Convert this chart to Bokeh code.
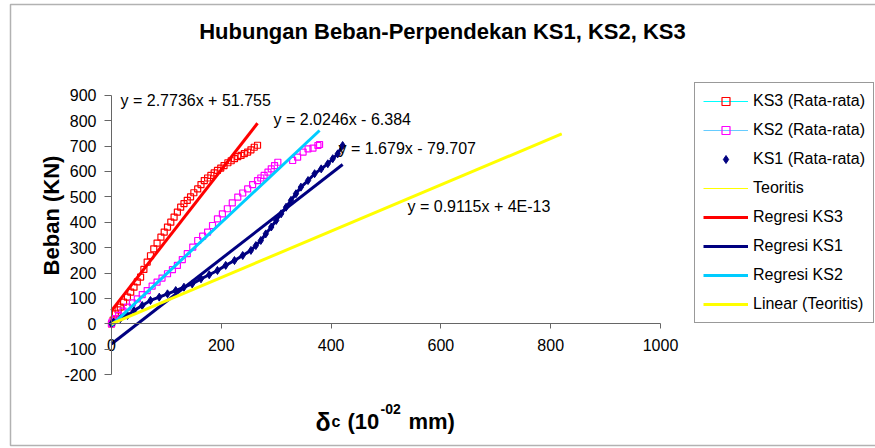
import numpy as np
from math import pi
from bokeh.plotting import figure
from bokeh.models import (Label, Legend, LegendItem, FixedTicker, Range1d, BoxAnnotation,
                          ColumnDataSource, CDSView, IndexFilter)
from bokeh.embed import file_html
from bokeh.resources import INLINE

# ---------------- data ----------------
ks3_x = [0, 3, 7, 12, 16, 22, 29, 35, 41, 47, 53, 59, 65, 71, 77, 83, 90, 96, 102, 108,
         114, 120, 126, 132, 138, 144, 150, 157, 163, 169, 175, 181, 187, 193, 199, 205,
         212, 218, 224, 230, 236, 242, 248, 254, 260, 266]
ks3_y = [0, 15, 39, 55, 66, 85, 105, 125, 144, 165, 184, 214, 243, 268, 295, 318, 341, 361,
         381, 400, 420, 440, 459, 473, 486, 500, 516, 531, 548, 564, 574, 584, 594, 604, 613,
         623, 634, 642, 650, 658, 663, 670, 676, 685, 695, 703]

ks2_x = [0, 1, 7, 13, 21, 29, 38, 47, 56, 65, 74, 83, 92, 102, 111, 120, 129, 138, 148, 157,
         166, 175, 184, 193, 202, 211, 220, 230, 239, 248, 257, 266, 272, 278, 285, 291, 297,
         303, 330, 339, 349, 358, 367, 376, 379]
ks2_y = [0, 7, 20, 33, 50, 66, 82, 98, 115, 131, 148, 164, 180, 197, 213, 230, 253, 276, 302,
         328, 345, 361, 387, 413, 433, 453, 476, 499, 515, 531, 548, 564, 574, 584, 597, 610,
         623, 636, 643, 656, 676, 689, 692, 702, 706]

ks1_x = [0, 4, 16, 29, 41, 56, 71, 87, 102, 117, 132, 147, 163, 178, 193, 208, 224, 239, 254,
         263, 272, 281, 291, 300, 309, 318, 327, 336, 345, 358, 370, 382, 394, 403, 412, 421]
ks1_y = [0, 7, 20, 33, 52, 72, 92, 105, 118, 131, 144, 157, 177, 193, 210, 230, 249, 269, 289,
         308, 328, 354, 381, 407, 433, 459, 486, 512, 538, 564, 591, 610, 630, 650, 669, 702]

teo_x = [0, 820]
teo_y = [0, 747]

# regression (slope, intercept) as printed on the chart
reg_ks3 = (2.7736, 51.755)
reg_ks2 = (2.0246, -6.384)
reg_ks1 = (1.679, -79.707)
reg_teo = (0.9115, 0.0)

eq_texts = ["y = 2.7736x + 51.755", "y = 2.0246x - 6.384",
            "y = 1.679x - 79.707", "y = 0.9115x + 4E-13"]

x_ticks = [0, 200, 400, 600, 800, 1000]
y_ticks = [-200, -100, 0, 100, 200, 300, 400, 500, 600, 700, 800, 900]

FONT = "Liberation Sans"

# ---------------- page <-> data mapping (layout only) ----------------
W, H = 875, 448
X0_PX, X_SCALE = 111.0, 0.549      # page x of x=0, px per unit
Y0_PX, Y_SCALE = 323.3, 0.254      # page y of y=0, px per unit


def dx(px):
    return (px - X0_PX) / X_SCALE


def dy(py):
    return (Y0_PX - py) / Y_SCALE


p = figure(width=W, height=H, title=None,
           x_range=Range1d(dx(0), dx(W)), y_range=Range1d(dy(H), dy(0)),
           output_backend="svg", toolbar_location=None,
           min_border=0, min_border_left=0, min_border_right=0,
           min_border_top=0, min_border_bottom=0)
p.background_fill_color = "white"
p.border_fill_color = "white"
p.outline_line_color = None
p.xgrid.visible = False
p.ygrid.visible = False

for ax in (p.xaxis, p.yaxis):
    ax.axis_line_color = "#666666"
    ax.major_tick_line_color = "#666666"
    ax.minor_tick_line_color = None
    ax.major_tick_in = 0
    ax.major_label_text_font = FONT
    ax.major_label_text_font_size = "16px"
    ax.major_label_text_color = "black"

p.xaxis.ticker = FixedTicker(ticks=x_ticks)
p.yaxis.ticker = FixedTicker(ticks=y_ticks)
p.yaxis.major_label_overrides = {t: str(t) for t in y_ticks}
p.xaxis.major_label_overrides = {t: str(t) for t in x_ticks}
p.xaxis.fixed_location = 0
p.yaxis.fixed_location = 0
p.xaxis.bounds = (x_ticks[0], x_ticks[-1])
p.yaxis.bounds = (y_ticks[0], y_ticks[-1])
p.xaxis.major_tick_out = 5
p.xaxis.major_label_standoff = 10
p.yaxis.major_tick_out = 7
p.yaxis.major_label_standoff = 8

# chart border (decoration)
p.add_layout(BoxAnnotation(left=dx(10), right=dx(W + 20), top=dy(4), bottom=dy(445),
                           fill_alpha=0, line_color="#000000", line_width=1.5))

# ---------------- data series ----------------
src3 = ColumnDataSource(dict(x=ks3_x, y=ks3_y))
src2 = ColumnDataSource(dict(x=ks2_x, y=ks2_y))
src1 = ColumnDataSource(dict(x=ks1_x, y=ks1_y))
srct = ColumnDataSource(dict(x=teo_x, y=teo_y))


def first_only_view():
    # a single point: the connecting line is not visible on the chart,
    # but the legend still shows its style
    return CDSView(filter=IndexFilter(indices=[0]))


ks3_line = p.line("x", "y", source=src3, line_color="#00FFFF", line_width=1,
                  view=first_only_view())
ks3_mark = p.scatter("x", "y", source=src3, marker="square", size=6, fill_color=None,
                     line_color="#FF0000", line_width=1.2)
ks2_line = p.line("x", "y", source=src2, line_color="#66CCFF", line_width=1,
                  view=first_only_view())
ks2_mark = p.scatter("x", "y", source=src2, marker="square", size=6, fill_color=None,
                     line_color="#FF00FF", line_width=1.2)
p.line("x", "y", source=src1, line_color="#000080", line_width=3)
ks1_mark = p.scatter("x", "y", source=src1, marker="diamond", size=8, fill_color="#000080",
                     line_color="#000080")
teo_line = p.line("x", "y", source=srct, line_color="#FFFF00", line_width=1)


def reg_line(coef, xmax, color):
    xs = np.array([0.0, float(xmax)])
    ys = coef[0] * xs + coef[1]
    return p.line(xs, ys, line_color=color, line_width=3)


r_ks3 = reg_line(reg_ks3, max(ks3_x), "#FF0000")
r_ks1 = reg_line(reg_ks1, max(ks1_x), "#000080")
r_ks2 = reg_line(reg_ks2, max(ks2_x), "#00CCFF")
r_teo = reg_line(reg_teo, max(teo_x), "#FFFF00")

# ---------------- legend ----------------
legend = Legend(items=[
    LegendItem(label="KS3 (Rata-rata)", renderers=[ks3_line, ks3_mark]),
    LegendItem(label="KS2 (Rata-rata)", renderers=[ks2_line, ks2_mark]),
    LegendItem(label="KS1 (Rata-rata)", renderers=[ks1_mark]),
    LegendItem(label="Teoritis", renderers=[teo_line]),
    LegendItem(label="Regresi KS3", renderers=[r_ks3]),
    LegendItem(label="Regresi KS1", renderers=[r_ks1]),
    LegendItem(label="Regresi KS2", renderers=[r_ks2]),
    LegendItem(label="Linear (Teoritis)", renderers=[r_teo]),
], location=(694, H - 323), orientation="vertical")
legend.label_text_font = FONT
legend.label_text_font_size = "16px"
legend.label_text_color = "black"
legend.glyph_width = 45
legend.glyph_height = 20
legend.label_height = 20
legend.label_standoff = 5
legend.spacing = 9
legend.padding = 8
legend.margin = 0
legend.border_line_color = "#333333"
legend.border_line_width = 1
legend.background_fill_color = "white"
legend.background_fill_alpha = 1.0
p.add_layout(legend, "center")

# ---------------- texts ----------------
eq_pos = [(120, 100), (273, 119), (338, 148), (407, 206)]
for t, (ex, ey) in zip(eq_texts, eq_pos):
    p.add_layout(Label(x=dx(ex), y=dy(ey), text=t, text_font=FONT, text_font_size="16px",
                       text_color="black", text_align="left", text_baseline="middle"))

p.add_layout(Label(x=dx(442), y=dy(31), text="Hubungan Beban-Perpendekan KS1, KS2, KS3",
                   text_font=FONT, text_font_size="22px", text_font_style="bold",
                   text_align="center", text_baseline="middle", text_color="black"))

p.add_layout(Label(x=dx(51), y=dy(215), text="Beban (KN)", angle=pi / 2,
                   text_font=FONT, text_font_size="22px", text_font_style="bold",
                   text_align="center", text_baseline="middle", text_color="black"))

xlab_parts = [("\u03b4", 315, 421, "25px"), ("c", 331, 421, "16px"),
              ("(10", 347, 421, "22px"), ("-02", 380, 408, "14px"),
              ("mm)", 408, 421, "22px")]
for t, lx, ly, fs in xlab_parts:
    p.add_layout(Label(x=dx(lx), y=dy(ly), text=t, text_font=FONT, text_font_size=fs,
                       text_font_style="bold", text_align="left",
                       text_baseline="alphabetic", text_color="black"))

open("out.html", "w").write(file_html(p, INLINE))
